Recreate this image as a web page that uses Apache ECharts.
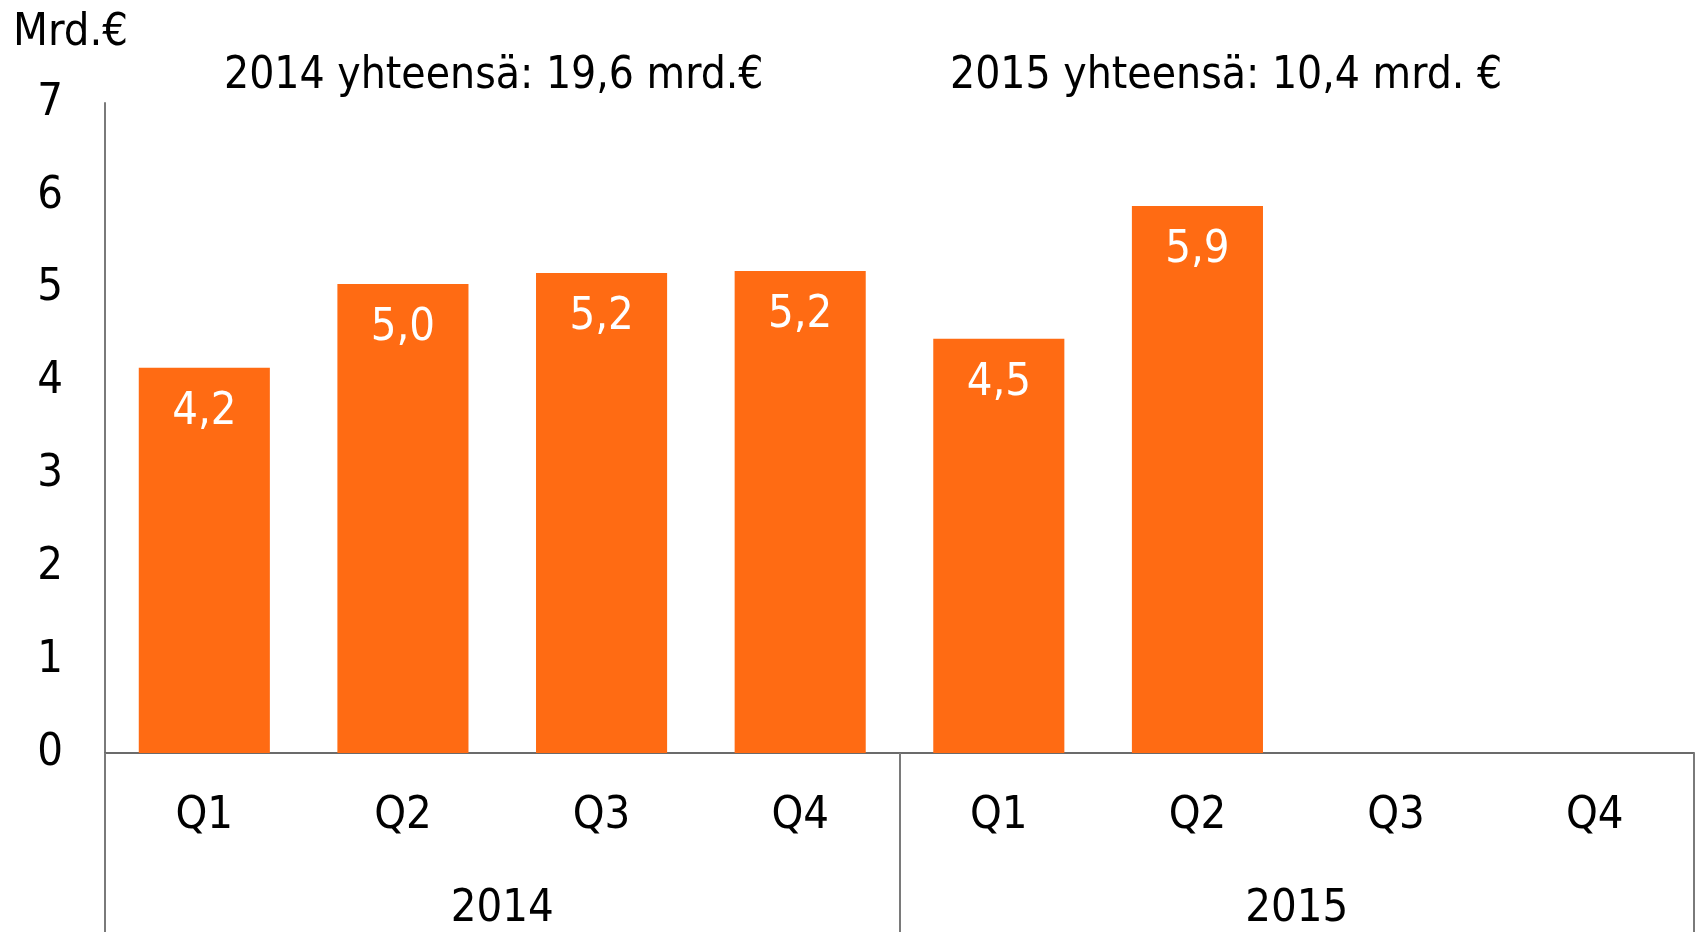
<html>
  <head>
    <meta charset="utf-8" />
    <title>ECharts</title>
    <script src="https://cdn.jsdelivr.net/npm/echarts@6/dist/echarts.min.js"></script>
    <style>
      body { margin: 0; }
    </style>
  </head>
  <body>
    <div id="main" style="width:1698px;height:932px;"></div>
    <script type="text/javascript">
      // data
      var quarters = ['Q1', 'Q2', 'Q3', 'Q4', 'Q1', 'Q2', 'Q3', 'Q4'];
      var years = ['2014', '2015'];
      var values = [4.15, 5.05, 5.17, 5.19, 4.46, 5.89, null, null];
      var valueLabels = ['4,2', '5,0', '5,2', '5,2', '4,5', '5,9', '', ''];
      var yTicks = [0, 1, 2, 3, 4, 5, 6, 7];
      var yearTotals = ['2014 yhteensä: 19,6 mrd.€', '2015 yhteensä: 10,4 mrd. €'];

      var font = '"Liberation Sans Narrow", "DejaVu Sans Condensed", sans-serif';

      var myChart = echarts.init(document.getElementById('main'));
      var option = {
        animation: false,
        textStyle: { fontFamily: font },
        title: [
          { text: 'Mrd.€', left: 8, top: 6, textStyle: { fontFamily: font, fontSize: 45, fontWeight: 'normal', color: '#000' } },
          { text: yearTotals[0], left: 219, top: 50, textStyle: { fontFamily: font, fontSize: 44, fontWeight: 'normal', color: '#000' } },
          { text: yearTotals[1], left: 945, top: 50, textStyle: { fontFamily: font, fontSize: 44, fontWeight: 'normal', color: '#000' } }
        ],
        grid: { left: 105, right: 4, top: 103, bottom: 179, containLabel: false },
        xAxis: [
          {
            type: 'category',
            data: quarters,
            axisLine: { show: true, lineStyle: { color: '#6b6b6b', width: 2 } },
            axisTick: { show: false },
            axisLabel: { color: '#000', fontSize: 45, margin: 41, fontFamily: font }
          },
          {
            type: 'category',
            data: years,
            position: 'bottom',
            axisLine: { show: false },
            axisTick: { show: true, length: 182, lineStyle: { color: '#7a7a7a', width: 2 } },
            axisLabel: { color: '#000', fontSize: 45, margin: 134, fontFamily: font }
          }
        ],
        yAxis: {
          type: 'value',
          min: 0,
          max: 7,
          interval: 1,
          axisLine: { show: true, lineStyle: { color: '#7a7a7a', width: 2 } },
          axisTick: { show: false },
          splitLine: { show: false },
          axisLabel: {
            color: '#000', fontSize: 45, margin: 42, fontFamily: font,
            padding: [8, 0, 0, 0],
            formatter: function (v) { return yTicks.indexOf(v) >= 0 ? String(v) : ''; }
          }
        },
        series: [
          {
            type: 'bar',
            xAxisIndex: 0,
            data: values,
            barWidth: '66%',
            itemStyle: { color: '#ff6b13' },
            label: {
              show: true,
              position: 'insideTop',
              distance: 22,
              color: '#fff',
              fontSize: 45,
              fontFamily: font,
              formatter: function (p) { return valueLabels[p.dataIndex]; }
            }
          }
        ]
      };
      myChart.setOption(option);
    </script>
  </body>
</html>
